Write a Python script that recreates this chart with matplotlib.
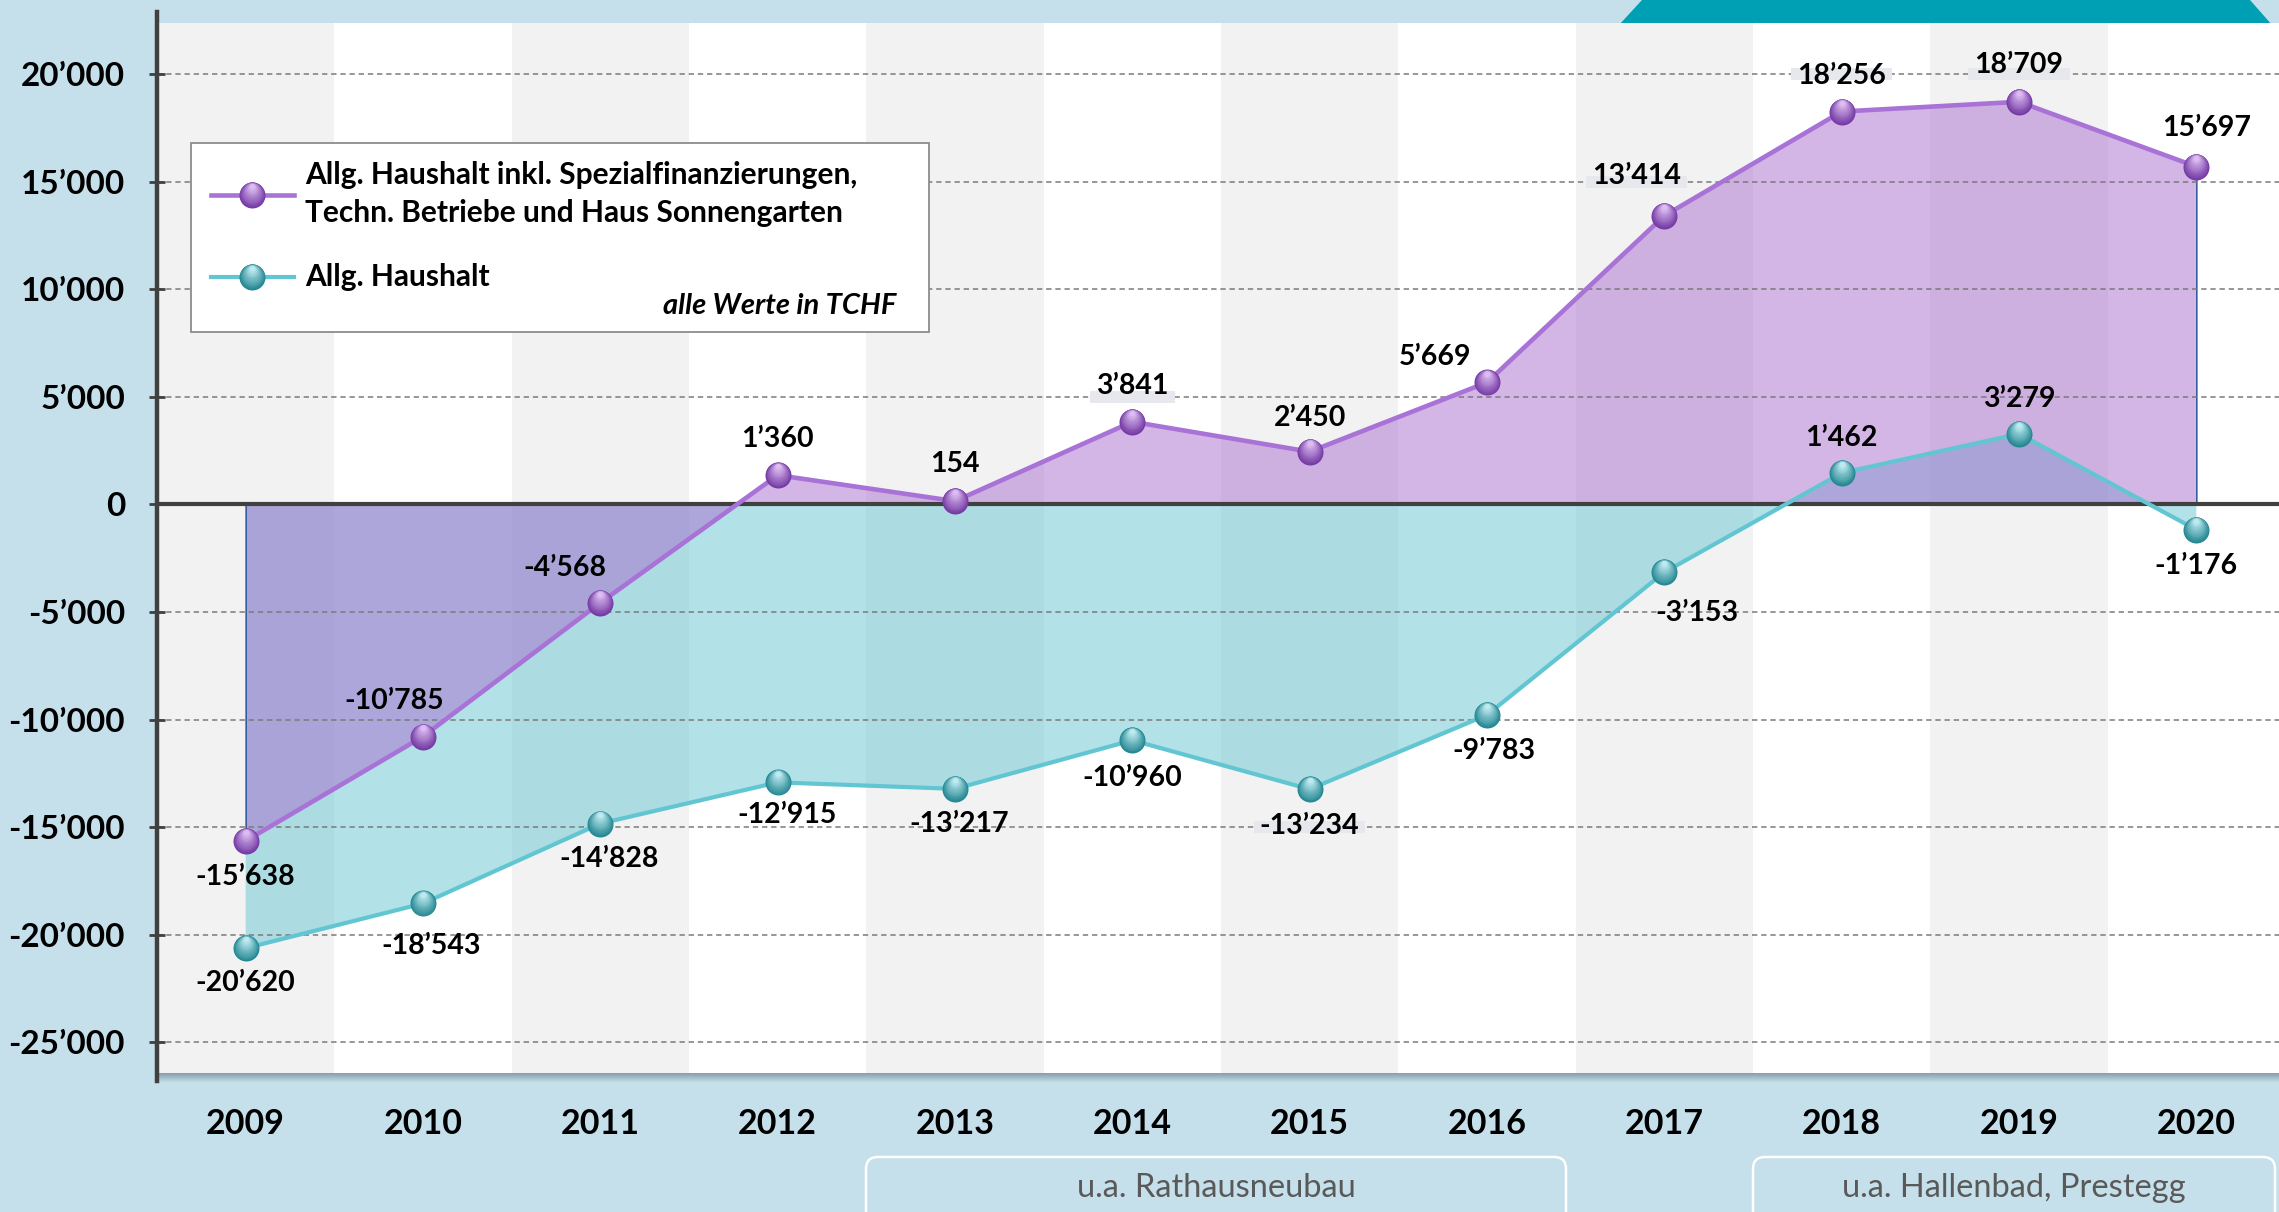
import numpy as np
import matplotlib
matplotlib.use('Agg')
import matplotlib.pyplot as plt
import matplotlib.transforms as mtransforms
from matplotlib.patches import Rectangle, Polygon, FancyBboxPatch
from matplotlib.lines import Line2D
from matplotlib.colors import to_rgb

plt.rcParams['font.family'] = ['Lato', 'DejaVu Sans']

# ---------------- data ----------------
years = ['2009', '2010', '2011', '2012', '2013', '2014', '2015', '2016',
         '2017', '2018', '2019', '2020']
total_values = [-15638, -10785, -4568, 1360, 154, 3841, 2450, 5669,
                13414, 18256, 18709, 15697]
general_values = [-20620, -18543, -14828, -12915, -13217, -10960, -13234,
                  -9783, -3153, 1462, 3279, -1176]
total_label_lines = ['Allg. Haushalt inkl. Spezialfinanzierungen,',
                     'Techn. Betriebe und Haus Sonnengarten']
general_label = 'Allg. Haushalt'
unit_note = 'alle Werte in TCHF'
y_ticks = [20000, 15000, 10000, 5000, 0, -5000, -10000, -15000, -20000, -25000]
y_tick_labels = ['20’000', '15’000', '10’000', '5’000', '0', '-5’000',
                 '-10’000', '-15’000', '-20’000', '-25’000']
project_notes = ['u.a. Rathausneubau', 'u.a. Hallenbad, Prestegg']

# ---------------- layout / style ----------------
W, H, DPI = 2279, 1212, 100
BG = '#c5dfeb'
PURPLE_LINE = '#a872d6'
TEAL_LINE = '#62c6d2'
PURPLE_FILL = (169 / 255, 109 / 255, 207 / 255, 0.5)
TEAL_FILL = (103 / 255, 197 / 255, 209 / 255, 0.5)
PURPLE_DARK, PURPLE_LIGHT = '#763ca5', '#dcbcf2'
TEAL_DARK, TEAL_LIGHT = '#268893', '#bdeaf0'
AXIS_COL = '#404040'
MARKER_PX = 26

# label offsets in pixels (dx, dy up)
total_offsets = [(0, -36), (-29, 36), (-35, 35), (0, 36), (0, 37), (0, 36),
                 (0, 34), (-52, 25), (-28, 40), (0, 36), (0, 37), (10, 39)]
general_offsets = [(0, -35), (8, -43), (9, -35), (9, -33), (4, -35), (0, -38),
                   (0, -37), (7, -36), (33, -41), (0, 35), (0, 35), (0, -36)]
# labels that carry a light strip hiding the gridline behind them
total_masked = {5, 8, 9, 10}
general_masked = {6}

ID = mtransforms.IdentityTransform()


def P(x, y):
    return (x, H - y)


def mix(c1, c2, f):
    a, b = np.array(to_rgb(c1)), np.array(to_rgb(c2))
    return tuple(a + (b - a) * f)


def fmt(v):
    s = f'{abs(v):,}'.replace(',', '’')
    return ('-' if v < 0 else '') + s


fig = plt.figure(figsize=(W / DPI, H / DPI), dpi=DPI, facecolor=BG)

# top teal trapezoid (decoration)
fig.add_artist(Polygon([P(1619, 25), P(1642, 0), P(2250, 0), P(2272, 25)],
                       closed=True, transform=ID, fc='#00a0b4', ec='none',
                       zorder=-1))

ax_l, ax_r, ax_t, ax_b = 157, 2285, 23, 1073
ax = fig.add_axes([ax_l / W, 1 - ax_b / H, (ax_r - ax_l) / W, (ax_b - ax_t) / H])
ax.set_facecolor('white')
for s in ax.spines.values():
    s.set_visible(False)

x = np.arange(len(years))
ax.set_xlim(-0.5, len(years) - 0.5)
ax.set_ylim(-26420, 22370)

# alternating column stripes
for i in range(0, len(years), 2):
    ax.axvspan(i - 0.5, i + 0.5, color='#f2f2f2', lw=0, zorder=0)

# areas
ax.fill_between(x, general_values, 0, facecolor=TEAL_FILL, edgecolor='none',
                lw=0, zorder=1)
ax.fill_between(x, total_values, 0, facecolor=PURPLE_FILL, edgecolor='#2f5597',
                lw=1.1, zorder=1.1)

# grid, ticks
ax.set_axisbelow(False)
ax.set_yticks(y_ticks, y_tick_labels, fontsize=24, fontweight='bold')
ax.set_xticks(x, years, fontsize=24.5, fontweight='bold')
ax.yaxis.grid(True, color='#7a7a7a', lw=1.1, ls=(0, (3.5, 2.5)))
ax.tick_params(axis='y', direction='inout', length=12, width=2.0,
               color=AXIS_COL, pad=17.0, labelcolor='black')
ax.tick_params(axis='x', length=0, pad=25, labelcolor='black')

ax.axhline(0, color=AXIS_COL, lw=3.0, zorder=2.6)

# lines
ax.plot(x, total_values, color=PURPLE_LINE, lw=3.3, zorder=3,
        solid_joinstyle='round')
ax.plot(x, general_values, color=TEAL_LINE, lw=3.0, zorder=3,
        solid_joinstyle='round')


def spheres_data(vals, dark, light, z, n=12):
    for k in range(n):
        f = k / (n - 1)
        dk = MARKER_PX * (1 - 0.8 * f)
        shift = (MARKER_PX - dk) / 2 * 0.85
        tr = ax.transData + mtransforms.ScaledTranslation(0, shift / DPI,
                                                         fig.dpi_scale_trans)
        ax.plot(x, vals, ls='none', marker='o', ms=dk * 72 / DPI,
                mfc=mix(dark, light, f), mec='none', transform=tr,
                zorder=z + k * 1e-3, clip_on=False)


def sphere_fig(px, py, dark, light, z, n=12):
    for k in range(n):
        f = k / (n - 1)
        dk = MARKER_PX * (1 - 0.8 * f)
        shift = (MARKER_PX - dk) / 2 * 0.85
        fig.add_artist(Line2D([px], [H - py + shift], transform=ID, ls='none',
                              marker='o', ms=dk * 72 / DPI,
                              mfc=mix(dark, light, f), mec='none',
                              zorder=z + k * 1e-3))


spheres_data(total_values, PURPLE_DARK, PURPLE_LIGHT, 4)
spheres_data(general_values, TEAL_DARK, TEAL_LIGHT, 4)

# data labels
renderer = fig.canvas.get_renderer()
grid_px = [ax.transData.transform((0, t))[1] for t in y_ticks]
for vals, offs, masked in ((total_values, total_offsets, total_masked),
                           (general_values, general_offsets, general_masked)):
    for i, v in enumerate(vals):
        t = ax.annotate(fmt(v), (x[i], v), xytext=offs[i], textcoords='offset pixels',
                        ha='center', va='center', fontsize=20.5,
                        fontweight='bold', color='black', zorder=6)
        if i in masked:
            bb = t.get_window_extent(renderer)
            cy = (bb.y0 + bb.y1) / 2
            g = min(grid_px, key=lambda gp: abs(gp - cy))
            ax.add_patch(Rectangle((bb.x0 - 6, g - 6), bb.width + 12, 12,
                                   transform=ID, fc='#e6e8ee', ec='none',
                                   zorder=5))

# y axis line
fig.add_artist(Line2D([157, 157], [H - 12, H - 1081], transform=ID,
                      color=AXIS_COL, lw=3.2, zorder=3))

# shadow under plot
for k in range(9):
    a = 0.45 * (1 - k / 9)
    fig.add_artist(Rectangle(P(ax_l + 2, ax_b + k + 1), W - ax_l, 1, transform=ID,
                             fc=(0.25, 0.33, 0.4, a), ec='none', zorder=1))

# legend
fig.add_artist(Rectangle(P(191, 332), 929 - 191, 332 - 143, transform=ID,
                         fc='white', ec='#8c8c8c', lw=1.3, zorder=5))
fig.add_artist(Line2D([211, 294], [H - 195] * 2, transform=ID,
                      color=PURPLE_LINE, lw=3.3, zorder=6))
fig.add_artist(Line2D([211, 294], [H - 277] * 2, transform=ID,
                      color=TEAL_LINE, lw=3.0, zorder=6))
sphere_fig(252, 195, PURPLE_DARK, PURPLE_LIGHT, 7)
sphere_fig(252, 277, TEAL_DARK, TEAL_LIGHT, 7)
fig.text(305, H - 175, total_label_lines[0], transform=ID, fontsize=21.5,
         fontweight='bold', ha='left', va='center', zorder=8)
fig.text(305, H - 213, total_label_lines[1], transform=ID, fontsize=21.5,
         fontweight='bold', ha='left', va='center', zorder=8)
fig.text(305, H - 277, general_label, transform=ID, fontsize=21.5,
         fontweight='bold', ha='left', va='center', zorder=8)
fig.text(896, H - 306, unit_note, transform=ID, fontsize=21,
         fontweight='bold', style='italic', ha='right', va='center', zorder=8)

# project note boxes
for (x0, x1), note in zip([(866, 1566), (1753, 2275)], project_notes):
    fig.add_artist(FancyBboxPatch(P(x0, 1235), x1 - x0, 1235 - 1157,
                                  boxstyle='round,pad=0,rounding_size=12',
                                  transform=ID, fc=BG, ec='white', lw=1.8,
                                  zorder=2))
    fig.text((x0 + x1) / 2, H - 1188, note, transform=ID, fontsize=23.5,
             color='#595959', ha='center', va='center', zorder=3)

fig.savefig('out.png', dpi=DPI, facecolor=BG)
